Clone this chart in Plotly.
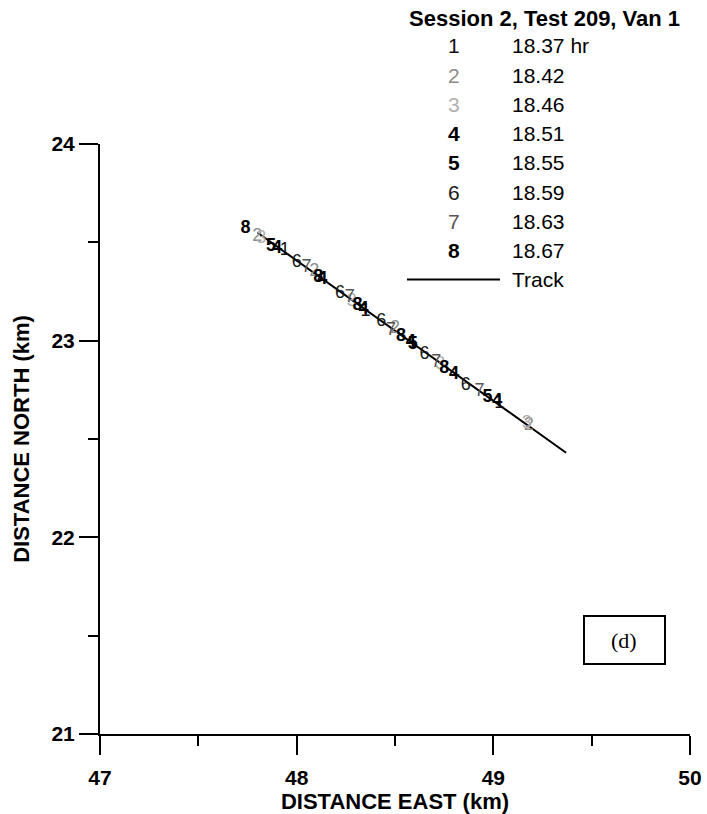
import plotly.graph_objects as go

# ---- data ----
series_labels = ["1", "2", "3", "4", "5", "6", "7", "8"]
series_times = ["18.37 hr", "18.42", "18.46", "18.51", "18.55", "18.59", "18.63", "18.67"]
series_colors = ["#111111", "#8c8c8c", "#b0b0b0", "#000000", "#000000", "#1a1a1a", "#555555", "#000000"]
series_bold = [False, False, False, True, True, False, False, True]

s1_x = [47.94, 48.35, 49.03]
s1_y = [23.46, 23.15, 22.68]
s2_x = [47.80, 48.09, 48.50, 49.18]
s2_y = [23.53, 23.35, 23.06, 22.57]
s3_x = [47.82, 48.28, 48.73, 49.17]
s3_y = [23.52, 23.20, 22.88, 22.58]
s4_x = [47.90, 48.13, 48.34, 48.58, 48.80, 49.02]
s4_y = [23.47, 23.31, 23.16, 22.99, 22.83, 22.69]
s5_x = [47.87, 48.59, 48.97]
s5_y = [23.48, 22.98, 22.71]
s6_x = [48.00, 48.22, 48.43, 48.65, 48.86]
s6_y = [23.40, 23.24, 23.10, 22.93, 22.77]
s7_x = [48.05, 48.27, 48.48, 48.71, 48.93]
s7_y = [23.37, 23.22, 23.05, 22.89, 22.74]
s8_x = [47.74, 48.11, 48.31, 48.53, 48.75]
s8_y = [23.57, 23.32, 23.18, 23.02, 22.86]

track_x = [47.80, 49.37]
track_y = [23.55, 22.43]

legend_title = "Session 2, Test 209, Van 1"
x_ticks = [47, 48, 49, 50]
y_ticks = [21, 22, 23, 24]

xs = [s1_x, s2_x, s3_x, s4_x, s5_x, s6_x, s7_x, s8_x]
ys = [s1_y, s2_y, s3_y, s4_y, s5_y, s6_y, s7_y, s8_y]

FONT = "Liberation Sans, Arial, sans-serif"

fig = go.Figure()

fig.add_trace(go.Scatter(x=track_x, y=track_y, mode="lines",
                         line=dict(color="black", width=2), name="Track",
                         showlegend=False, hoverinfo="skip"))

for lab, col, bold, x, y in zip(series_labels, series_colors, series_bold, xs, ys):
    fig.add_trace(go.Scatter(
        x=x, y=y, mode="text", text=[lab] * len(x),
        textfont=dict(family=FONT, size=18, color=col,
                      weight="bold" if bold else "normal"),
        name=lab, showlegend=False))

# plot area in window pixels: x 100..690, y 144..734 (page body margin removed below)
W, H = 707, 814
L, T = 100, 144
pw = ph = 590
R = W - L - pw
B = H - T - ph


def px_x(p):
    return (p - L) / pw


def px_y(p):
    return (T + ph - p) / ph


ann = []
ann.append(dict(x=px_x(407), y=px_y(18), xref="paper", yref="paper",
                text=legend_title, showarrow=False,
                font=dict(family=FONT, size=22, color="black", weight="bold"),
                xanchor="left", yanchor="middle"))
row_y0, row_dy = 46, 29.2
for i, (lab, t, col, bold) in enumerate(zip(series_labels, series_times, series_colors, series_bold)):
    yy = row_y0 + i * row_dy
    ann.append(dict(x=px_x(454), y=px_y(yy), xref="paper", yref="paper",
                    text=lab, showarrow=False,
                    font=dict(family=FONT, size=21, color=col,
                              weight="bold" if bold else "normal"),
                    xanchor="center", yanchor="middle"))
    ann.append(dict(x=px_x(510), y=px_y(yy), xref="paper", yref="paper",
                    text=t, showarrow=False,
                    font=dict(family=FONT, size=21, color="black"),
                    xanchor="left", yanchor="middle"))
track_row_y = row_y0 + 8 * row_dy
ann.append(dict(x=px_x(510), y=px_y(track_row_y), xref="paper", yref="paper",
                text="Track", showarrow=False,
                font=dict(family=FONT, size=21, color="black"),
                xanchor="left", yanchor="middle"))
ann.append(dict(x=px_x(624), y=px_y(640), xref="paper", yref="paper",
                text="(d)", showarrow=False,
                font=dict(family="Liberation Serif, Times New Roman, serif", size=22, color="black"),
                xanchor="center", yanchor="middle"))

shapes = [
    dict(type="line", xref="paper", yref="paper",
         x0=px_x(407), x1=px_x(500), y0=px_y(track_row_y), y1=px_y(track_row_y),
         line=dict(color="black", width=2)),
    dict(type="rect", xref="paper", yref="paper",
         x0=px_x(584), x1=px_x(665), y0=px_y(616), y1=px_y(664),
         line=dict(color="black", width=2)),
]

axis_common = dict(
    showgrid=False, zeroline=False, showline=True, linecolor="black", linewidth=2,
    ticks="outside", ticklen=19, tickwidth=2, tickcolor="black",
    tickfont=dict(family=FONT, size=21, color="black", weight="bold"),
    minor=dict(ticks="outside", ticklen=10, tickwidth=1.5, tickcolor="black", dtick=0.5),
)

fig.update_layout(
    width=W, height=H,
    margin=dict(l=L, r=R, t=T, b=B, autoexpand=False),
    paper_bgcolor="white", plot_bgcolor="white",
    showlegend=False,
    annotations=ann, shapes=shapes,
    xaxis=dict(range=[47, 50], tickvals=x_ticks, ticktext=[str(v) for v in x_ticks],
               ticklabelstandoff=5,
               title=dict(text="DISTANCE EAST (km)", standoff=7,
                          font=dict(family=FONT, size=22, color="black", weight="bold")),
               **axis_common),
    yaxis=dict(range=[21, 24], tickvals=y_ticks, ticktext=[str(v) for v in y_ticks],
               ticklabelstandoff=0,
               title=dict(text="DISTANCE NORTH (km)", standoff=16,
                          font=dict(family=FONT, size=22, color="black", weight="bold")),
               **axis_common),
)

fig.write_html(
    "out.html",
    config={"displayModeBar": False},
    post_script="document.body.style.margin='0';document.body.style.overflow='hidden';",
)
